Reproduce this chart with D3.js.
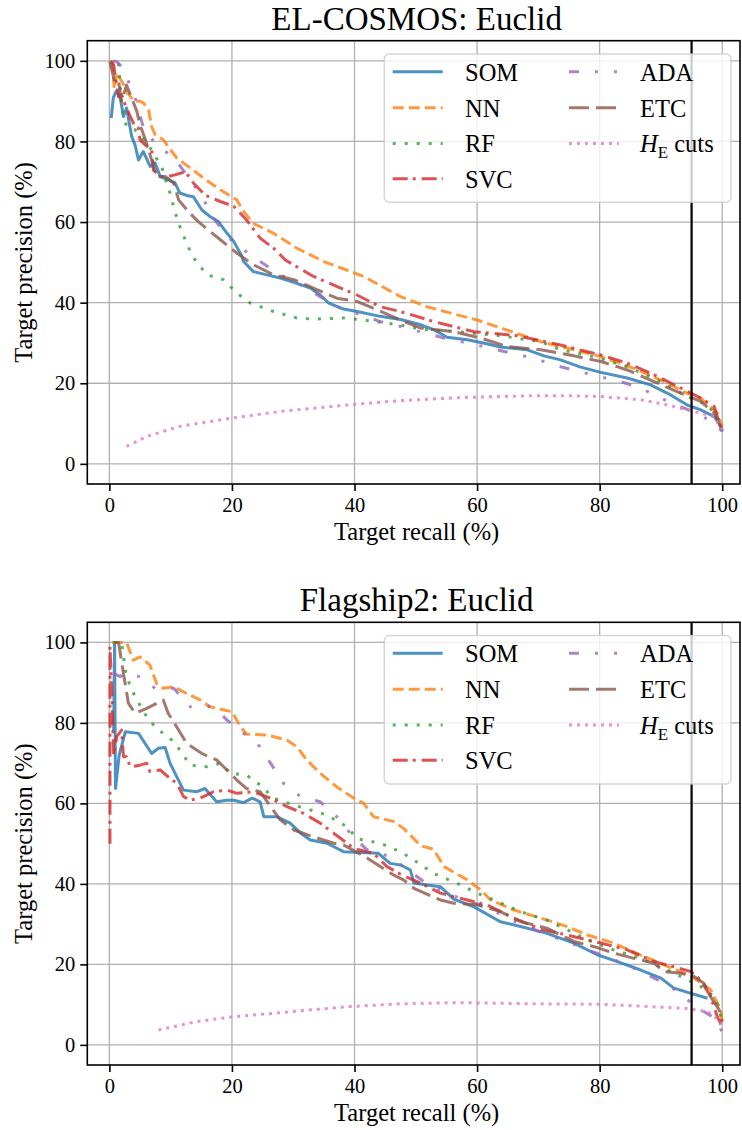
<!DOCTYPE html>
<html>
<head>
<meta charset="utf-8">
<script src="https://cdn.jsdelivr.net/npm/d3@7"></script>
<style>
  html, body { margin: 0; padding: 0; background: #fff; }
  svg { display: block; }
</style>
</head>
<body>
<svg id="chart" width="742" height="1130"></svg>
<script>
// ---------- DATA ----------
const seriesNames = ["SOM", "NN", "RF", "SVC", "ADA", "ETC", "HE"];
const xTicks = [0, 20, 40, 60, 80, 100];
const yTicks = [0, 20, 40, 60, 80, 100];
const recallCut = 95;
const panelTitles = ["EL-COSMOS: Euclid", "Flagship2: Euclid"];

// EL-COSMOS panel
const cosmosSOM = [[0.3,85.8],[0.65,90.9],[1.1,92.4],[1.75,91.1],[2.3,86.2],[2.8,88.3],[3.65,81.2],[4.2,79.1],[4.75,75.4],[5.55,77.5],[6.65,73.8],[7.45,74.7],[8.3,71.3],[9.6,70.5],[10.7,69.7],[11.5,67.2],[12.6,66.6],[13.7,66.3],[15.1,63],[16.4,61.4],[17.8,60.1],[19.2,57.2],[20.3,55.2],[21.6,51.6],[21.9,50.2],[23.5,47.7],[25.7,46.9],[27.9,46.1],[30.6,44.8],[32.8,43.6],[34.4,41.9],[35.8,39.9],[38.2,38.4],[40.4,37.8],[44.2,36.6],[47.5,35.8],[50.8,34.5],[52.9,33.3],[55.1,31.4],[58.4,30.8],[61.6,29.8],[63.8,29],[68.2,28.3],[70.9,26.8],[73.6,25.8],[76.9,24],[80.2,22.7],[84.5,21.3],[88.3,19.6],[91.1,17.5],[94.3,14.6],[96.5,13.4],[98.7,11.7],[99.8,9.3],[100,8]];
const cosmosNN = [[0.5,100],[0.8,93],[1.2,97],[2,95],[3,92],[4,90],[5,90],[5.6,89.5],[6.4,87.8],[6.9,83.7],[7.5,81.6],[8.8,80.4],[9.6,78.7],[11,75.9],[13.2,73.4],[15.4,70.9],[18.1,68],[20.8,65.5],[21.9,62.6],[23.5,59.7],[26.8,57.2],[30.6,53.5],[35,50.2],[41.5,46.5],[47.5,41.5],[51.8,39],[55.7,37.4],[60,35.7],[64.9,33.2],[70.4,30.3],[75.8,28.3],[80.2,26.6],[85.6,23.7],[90,20.8],[94.3,17.5],[96.5,16.3],[99.2,12.6],[100,9.3]];
const cosmosRF = [[1.5,99.4],[2,88.7],[2.3,86.6],[2.8,83.7],[4.2,82.9],[5.6,80.4],[6.9,77.9],[8.6,73.4],[9.1,70.9],[9.9,67.2],[10.7,62.6],[11.5,58.9],[12.6,54.8],[13.2,52.7],[14,50.6],[15.9,46.9],[18.6,45.7],[20.8,42.4],[23,39.9],[26.8,37.8],[30.6,36.2],[33.3,35.9],[38.2,36.2],[41.5,35.7],[45.3,34.9],[48.8,34.1],[50.8,33.4],[56.7,32.8],[63.8,31.8],[70.4,30.3],[73.6,28.3],[79.1,26.6],[84.5,24.1],[90,20.4],[94.3,16.7],[97.6,14.6],[99.5,10.9],[100,8.4]];
const cosmosSVC = [[0.2,100],[0.7,99],[1.2,94],[1.5,91.1],[2,91.6],[2.6,89],[3.4,86.2],[4.2,83.7],[4.75,83.3],[5,80.4],[5.8,79.2],[6.9,77.9],[7.2,72.9],[8.3,71.3],[9.6,71.3],[10.7,71.7],[12.4,72.5],[13.7,69.7],[15.6,66.7],[18.1,65.1],[20.3,63.9],[22.4,60.5],[24.6,56],[26.8,53.5],[28.7,50.6],[33.3,46.5],[40.4,41.9],[44.2,39],[47.5,37.8],[52.9,35.3],[59.5,32.8],[66.5,31.8],[73.6,29.5],[80.2,27],[84.5,25],[88.9,22.1],[93.8,18.4],[96.5,16.3],[98.7,14.2],[99.5,10.1],[100,8.4]];
const cosmosADA = [[0.6,100],[1.2,99.8],[2,98.6],[2.6,96.5],[3.9,92.4],[5.8,82.1],[8.6,78.3],[11,75],[13.2,70.5],[15.4,65.5],[17,61],[19.2,56.4],[21.9,53.1],[24.6,50.2],[27.9,46.9],[31.2,44.4],[34.4,41.5],[37.7,38.6],[41,37],[44.2,35.3],[47.5,34.1],[54.6,31.2],[58.4,30],[62.2,28.7],[65.5,27.5],[69.3,26.2],[73.1,24.3],[79.6,21.8],[83.4,20.4],[86.7,18.8],[90,16.3],[93.8,13.8],[96.5,12.2],[99.2,9.3],[100,8]];
const cosmosETC = [[0.1,99.8],[0.9,94.5],[1.5,94.9],[2,89.9],[2.8,94],[3.65,90.7],[4.5,87.4],[5,84.1],[5.8,80.8],[6.4,77.9],[7.2,73.8],[7.7,71.3],[9.1,71.3],[10.5,69.7],[11.3,65.5],[12.9,62.6],[14.5,60.1],[18.1,55.6],[20.8,52.3],[23.5,49.4],[26.8,46.9],[30.1,45.7],[33.3,43.6],[37.1,41.1],[40.4,40.3],[43.7,38.2],[47.5,35.7],[50.8,33.7],[56.2,32.8],[60.6,31.2],[64.9,29.1],[70.4,28.3],[75.8,26.8],[80.2,25.4],[84.5,23.3],[88.9,20.4],[93.3,17.5],[96.5,15.5],[98.7,12.6],[100,8.4]];
const cosmosHE = [[2.8,4.3],[6.1,6.8],[11.5,9.3],[19.7,11.3],[27.9,13],[38.8,14.6],[47.5,15.7],[58.4,16.5],[69.3,16.9],[74.7,16.9],[80.2,16.7],[86.7,15.9],[91.1,14.6],[95.4,13],[98.7,11.7],[100,8.4]];

// Flagship2 panel
const flagSOM = [[0.7,78],[0.85,100],[1.0,63.7],[1.6,72],[2.6,77.8],[4.75,77.4],[6.9,72.4],[8,73.7],[9.1,73.9],[9.9,70],[11,66.6],[12.1,63.3],[14.3,62.9],[15.6,63.7],[17.5,60.4],[19.2,60.8],[20.3,60.8],[21.9,60.2],[23.3,61.3],[24.6,60.4],[25.2,56.7],[27.3,56.7],[29.5,55.1],[31.2,52.6],[32.8,50.9],[35.5,50.1],[38.2,48],[41,47.8],[43.9,47.6],[45.8,45.1],[47.5,44.7],[49.1,43.5],[49.7,40.2],[51.8,39.7],[54,39.3],[56.2,36.2],[59.5,34.3],[63.8,30.6],[67.1,29.4],[71.4,27.7],[75.8,25.3],[79.6,22.4],[82.9,20.7],[86.7,18.6],[90,16.6],[92.1,14.1],[94.9,12.8],[97.6,11.6]];
const flagNN = [[0.4,100],[2.8,100],[3.9,95.6],[5,96.4],[6.6,94.4],[7.7,89.8],[8.8,88.6],[10.5,89],[12.6,87.3],[14.8,85.7],[16.4,84],[18.1,83.4],[20,82.8],[21.4,79],[22.4,77.2],[25.7,77],[29,75.7],[30.6,74.1],[32.2,70.8],[34.4,67.5],[37.1,64.1],[39.9,61.3],[41.5,60],[43.1,56.7],[46.4,55.5],[48,53.8],[50.8,49.5],[52.9,48.6],[54.6,44.3],[58.4,41],[60.6,38.5],[62.2,36],[66,33.5],[70.4,31.5],[74.7,29.4],[78,27.3],[82.3,25.3],[86.7,22.3],[90.5,19.9],[93.8,17.8],[95.9,16.1],[98.1,13.7],[99.2,10.4],[99.8,8.7],[100,4.5]];
const flagRF = [[0.65,100],[2,100],[2.6,93.1],[3.4,89],[4.5,85.7],[6.1,81.5],[7.7,78.6],[9.9,76.2],[11.5,73.3],[13.2,69.5],[15.9,69.1],[18.1,70],[19.7,67.5],[22.4,67],[24.6,64.6],[26.8,61.3],[30.1,59.6],[32.8,58.4],[35.5,57.1],[38.8,54.2],[40.4,51.2],[44.2,50.1],[47.5,48],[49.7,45.9],[52.9,42.6],[56.7,40.2],[60,37.7],[62.7,36],[67.1,33.1],[71.4,31],[74.7,28.6],[78,26.1],[82.3,23.6],[86.7,21.5],[90.5,19],[93.8,16.6],[96.5,14.5],[98.7,12],[99.5,8.7],[100,5.4]];
const flagSVC = [[0.1,50],[0.1,99],[0.4,87.3],[0.7,72],[1.2,76.6],[2,78.2],[2.3,71.6],[2.8,71.6],[3.4,69.1],[5,69.5],[6.1,70],[6.6,67.9],[8.3,68.3],[9.6,66.6],[11,65],[12.1,61.7],[13.2,60.8],[14.8,61.3],[17,62.9],[19.2,63.3],[20.8,62.5],[23.5,62.9],[26.3,61.3],[29,59.2],[31.7,57.5],[34.4,55.1],[36.6,52.6],[38.8,50.1],[39.9,48.8],[43.1,47.6],[45.3,44.3],[47.5,42.4],[50.8,40.2],[54,37.7],[58.4,36],[61.6,34.8],[66,31.5],[70.4,28.7],[74.7,27.3],[80.2,25.3],[84.5,23.6],[88.9,20.7],[92.1,19.4],[94.9,18.2],[96.5,16.1],[98.1,12],[99.2,7],[100,4.5]];
const flagADA = [[0.65,92.3],[1.8,91.5],[2.3,92.3],[5,91.5],[7.45,88.6],[10.5,88.6],[13.2,84],[15.9,84.4],[18.1,82.4],[19.2,80.7],[21.9,77.4],[24.6,74.1],[26.3,70],[28.4,65],[31.2,61.7],[34.4,60.4],[37.1,56.7],[39.3,52.6],[42,48.5],[45.8,46.8],[48.5,43.7],[51.3,40.6],[54,38.5],[57.8,36],[61.6,34.3],[64.9,31.5],[68.2,29.4],[71.4,27.3],[74.7,25.7],[78,23.6],[81.2,21.9],[85.1,19.4],[87.8,17.4],[91.6,14.5],[94.3,11.2],[97,8.3],[99.2,6.2],[100,2.9]];
const flagETC = [[0.9,100],[1.5,100],[2.3,92.3],[3.1,84.9],[4.2,82.4],[6.1,83.6],[8.8,85.7],[9.6,82.4],[11,79],[12.6,74.9],[15.1,72.4],[17.5,70.8],[19.2,68.3],[20.8,65.8],[22.4,63.7],[24.6,62.9],[26.3,59.2],[27.9,55.9],[30.1,53.4],[33.3,51.7],[36.6,50.1],[38.2,49.7],[42.1,46.4],[44.2,44.3],[46.4,42.2],[48,41],[49.7,38.9],[54,36],[56.2,35.2],[60,34.8],[63.8,33.1],[67.1,30.6],[71.4,29],[75.8,25.7],[79.1,24.4],[82.3,22.8],[85.6,21.5],[88.9,20.3],[90.5,18.2],[93.3,17.8],[95.4,17],[97,15.3],[98.1,12],[99.5,8.7],[100,5.8]];
const flagHE = [[8,3.7],[14.3,5.8],[19.7,6.9],[27.9,8],[38.8,9.5],[47.5,10.2],[56.7,10.5],[69.3,10.2],[80.2,10.1],[88.3,9.5],[93.8,9.1],[97.6,8.3],[99.5,6.2],[100,3.7]];

const panelSeries = [
  [cosmosSOM, cosmosNN, cosmosRF, cosmosSVC, cosmosADA, cosmosETC, cosmosHE],
  [flagSOM, flagNN, flagRF, flagSVC, flagADA, flagETC, flagHE]
];

// ---------- STYLE ----------
const FONT = "'Liberation Serif', 'Times New Roman', Times, serif";
const colors = ["#1f77b4", "#ff7f0e", "#2ca02c", "#d62728", "#9467bd", "#8c564b", "#e377c2"];
const dashes = ["", "11,5", "3,9", "15,5,3,6", "10,16,3,16,3,16", "20,7", "3,5"];
const LW = 3;

const svg = d3.select("#chart");
const left = 87.3, right = 740;
const panels = [{top: 40.7, bottom: 484}, {top: 622.3, bottom: 1065}];

const x = d3.scaleLinear().domain([-3.6, 102.9]).range([left, right]);

function txt(sel) { return sel.style("font-family", FONT).attr("fill", "#000"); }

panels.forEach((p, pi) => {
  const y = d3.scaleLinear().domain([-5, 105]).range([p.bottom, p.top]);
  const g = svg.append("g");
  const clipId = "clip" + pi;
  svg.append("clipPath").attr("id", clipId).append("rect")
    .attr("x", left).attr("y", p.top).attr("width", right - left).attr("height", p.bottom - p.top);

  // grid
  const grid = g.append("g");
  xTicks.forEach(t => grid.append("line").attr("x1", x(t)).attr("x2", x(t)).attr("y1", p.top).attr("y2", p.bottom)
    .attr("stroke", "#b0b0b0").attr("stroke-width", 1.3));
  yTicks.forEach(t => grid.append("line").attr("x1", left).attr("x2", right).attr("y1", y(t)).attr("y2", y(t))
    .attr("stroke", "#b0b0b0").attr("stroke-width", 1.3));

  // lines
  const line = d3.line().x(d => x(d[0])).y(d => y(d[1]));
  const lg = g.append("g").attr("clip-path", `url(#${clipId})`);
  panelSeries[pi].forEach((data, si) => {
    lg.append("path").datum(data).attr("d", line)
      .attr("fill", "none").attr("stroke", colors[si]).attr("stroke-opacity", 0.8)
      .attr("stroke-width", LW).attr("stroke-dasharray", dashes[si] || null)
      .attr("stroke-linejoin", "round");
  });
  // vertical cut line
  lg.append("line").attr("x1", x(recallCut)).attr("x2", x(recallCut)).attr("y1", p.top).attr("y2", p.bottom)
    .attr("stroke", "#000").attr("stroke-width", 2.2);

  // axes
  const xAxis = d3.axisBottom(x).tickValues(xTicks).tickSize(7).tickPadding(5).tickFormat(d3.format("d"));
  const yAxis = d3.axisLeft(y).tickValues(yTicks).tickSize(7).tickPadding(5).tickFormat(d3.format("d"));
  const gx = g.append("g").attr("transform", `translate(0,${p.bottom})`).call(xAxis);
  const gy = g.append("g").attr("transform", `translate(${left},0)`).call(yAxis);
  [gx, gy].forEach(a => {
    a.attr("font-family", null);
    a.select(".domain").remove();
    a.selectAll(".tick line").attr("stroke", "#000").attr("stroke-width", 1.6);
    txt(a.selectAll(".tick text")).style("font-size", "20.5px");
  });
  gx.selectAll(".tick text").attr("dy", "0.8em");

  // frame
  g.append("rect").attr("x", left).attr("y", p.top).attr("width", right - left).attr("height", p.bottom - p.top)
    .attr("fill", "none").attr("stroke", "#000").attr("stroke-width", 1.6);

  // title & labels
  txt(g.append("text")).attr("x", (left + right) / 2 + 3).attr("y", p.top - 11).attr("text-anchor", "middle")
    .style("font-size", "33px").text(panelTitles[pi]);
  txt(g.append("text")).attr("x", (left + right) / 2 + 3).attr("y", p.bottom + 56).attr("text-anchor", "middle")
    .style("font-size", "24.5px").text("Target recall (%)");
  txt(g.append("text")).attr("transform", `translate(31.5,${(p.top + p.bottom) / 2}) rotate(-90)`).attr("text-anchor", "middle")
    .style("font-size", "24.5px").text("Target precision (%)");

  // legend
  const lx = 384.3, ly = p.top + 13.3, lw = 731 - 384.3, lh = 148.3;
  const leg = g.append("g");
  leg.append("rect").attr("x", lx).attr("y", ly).attr("width", lw).attr("height", lh).attr("rx", 5)
    .attr("fill", "rgba(255,255,255,0.8)").attr("stroke", "rgba(204,204,204,0.8)").attr("stroke-width", 1.5);
  const rowY = [31, 67, 102.7, 138];
  seriesNames.forEach((name, si) => {
    const col = si < 4 ? 0 : 1;
    const row = si < 4 ? si : si - 4;
    const hx = col === 0 ? 392.7 : 569;
    const tx = col === 0 ? 465 : 640;
    const yy = p.top + rowY[row];
    leg.append("line").attr("x1", hx).attr("x2", hx + 50).attr("y1", yy).attr("y2", yy)
      .attr("stroke", colors[si]).attr("stroke-opacity", 0.8).attr("stroke-width", LW)
      .attr("stroke-dasharray", dashes[si] || null);
    const t = txt(leg.append("text")).attr("x", tx).attr("y", yy + 9).style("font-size", "24.5px");
    if (name === "HE") {
      t.append("tspan").style("font-style", "italic").text("H");
      t.append("tspan").attr("dy", 6).style("font-size", "17px").text("E");
      t.append("tspan").attr("dy", -6).text(" cuts");
    } else {
      t.text(name);
    }
  });
});
</script>
</body>
</html>
